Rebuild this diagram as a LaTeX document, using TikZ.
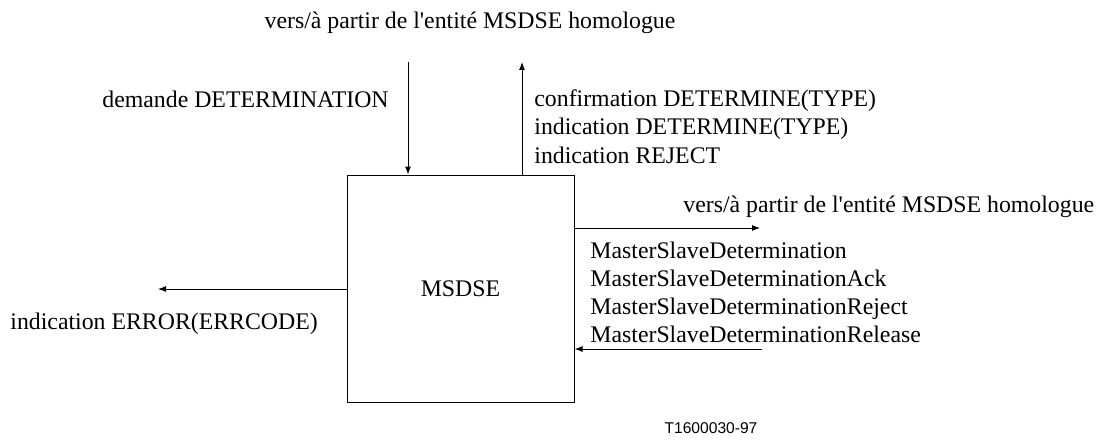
\documentclass[tikz,border=0pt]{standalone}
\usepackage{fontspec}
\setmainfont{Liberation Serif}
\setsansfont{Liberation Sans}
\usetikzlibrary{positioning, arrows.meta}

\tikzset{
  sig/.style={-{Latex[length=4pt,width=3pt]}, line width=0.5pt},
  lbl/.style={inner sep=0pt, font=\fontsize{11.9}{14}\selectfont},
}

\begin{document}
\begin{tikzpicture}[x=0.5pt, y=-0.5pt]
\useasboundingbox (0,0) rectangle (1096,444);
\node [draw, line width=0.5pt, minimum width=113.5pt, minimum height=113.5pt, lbl] (msdse) at (460.5, 288.5) {MSDSE};
% bouts libres des fleches
\coordinate (inTop) at (408, 62);
\coordinate (outTop) at (522, 62);
\coordinate (outRight) at (760, 228);
\coordinate (inRight) at (762, 349);
\coordinate (outLeft) at (158, 289);
\draw [sig] (inTop) -- (inTop |- msdse.north);
\draw [sig] (outTop |- msdse.north) -- (outTop);
\draw [sig] (msdse.east |- outRight) -- (outRight);
\draw [sig] (inRight) -- (msdse.east |- inRight);
\draw [sig] (msdse.west |- outLeft) -- (outLeft);
% textes
\node [lbl, anchor=base] (peerTop) at (470, 29) {vers/à partir de l\textquotesingle entité MSDSE homologue};
\node [lbl, anchor=base east] (request) at (389, 107) {demande DETERMINATION};
\foreach \txt [count=\i] in {confirmation DETERMINE(TYPE), indication DETERMINE(TYPE), indication REJECT}
  \node [lbl, anchor=base west] (ind\i) at (534, 78.2+28.3*\i) {\txt};
\node [lbl, anchor=base west] (peerRight) at (683, 212) {vers/à partir de l\textquotesingle entité MSDSE homologue};
\foreach \txt [count=\i] in {MasterSlaveDetermination, MasterSlaveDeterminationAck, MasterSlaveDeterminationReject, MasterSlaveDeterminationRelease}
  \node [lbl, anchor=base west] (msg\i) at (590, 229.7+28.3*\i) {\txt};
\node [lbl, anchor=base west] (error) at (10, 329) {indication ERROR(ERRCODE)};
\node [inner sep=0pt, anchor=base, font=\sffamily\fontsize{7.8}{9}\selectfont] (figId) at (711, 433) {T1600030-97};
\end{tikzpicture}
\end{document}
